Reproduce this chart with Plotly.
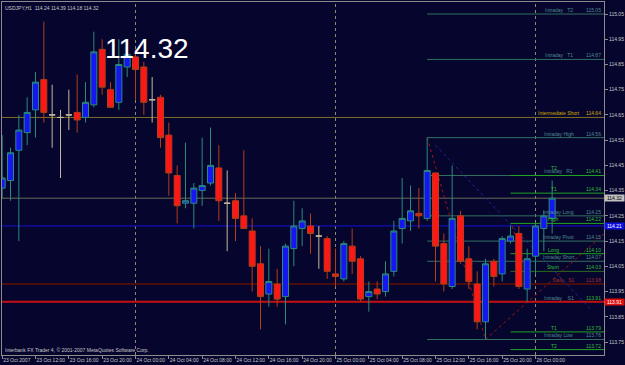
import plotly.graph_objects as go
import pandas as pd

# ---------------- data ----------------
times = pd.date_range("2007-10-23 08:00", periods=67, freq="h")
opens = [114.36, 114.39, 114.51, 114.58, 114.67, 114.79, 114.65, 114.64, 114.65, 114.66,
         114.64, 114.69, 114.91, 114.75, 114.70, 114.84, 114.88, 114.84, 114.71, 114.72,
         114.57, 114.41, 114.30, 114.30, 114.35, 114.38, 114.44, 114.30, 114.31, 114.25,
         114.19, 114.06, 113.94, 113.98, 113.93, 114.12, 114.20, 114.21, 114.17, 114.16,
         114.02, 114.00, 114.13, 114.08, 113.93, 113.96, 113.95, 114.03, 114.20, 114.23,
         114.26, 114.24, 114.42, 114.14, 113.97, 114.25, 114.08, 113.98, 113.83, 114.07,
         114.02, 114.15, 114.18, 113.96, 114.09, 114.20, 114.24]
highs = [114.57, 114.52, 114.65, 114.72, 114.82, 115.02, 114.77, 114.67, 114.75, 114.81,
         114.78, 114.98, 114.95, 114.78, 114.95, 114.92, 114.91, 114.86, 114.80, 114.73,
         114.62, 114.45, 114.54, 114.38, 114.56, 114.60, 114.53, 114.43, 114.34, 114.51,
         114.24, 114.13, 114.12, 114.04, 114.14, 114.31, 114.28, 114.26, 114.21, 114.17,
         114.12, 114.15, 114.20, 114.09, 113.99, 113.99, 114.07, 114.23, 114.40, 114.37,
         114.36, 114.56, 114.42, 114.18, 114.45, 114.27, 114.13, 114.03, 114.08, 114.08,
         114.17, 114.21, 114.21, 114.12, 114.22, 114.27, 114.39]
lows = [114.32, 114.31, 114.15, 114.53, 114.56, 114.62, 114.52, 114.40, 114.59, 114.58,
        114.62, 114.68, 114.73, 114.68, 114.67, 114.80, 114.71, 114.65, 114.62, 114.52,
        114.33, 114.22, 114.28, 114.20, 114.29, 114.37, 114.23, 114.11, 114.15, 114.20,
        113.95, 113.80, 113.89, 113.89, 113.82, 114.05, 114.13, 114.10, 114.04, 114.00,
        113.97, 113.99, 114.02, 113.91, 113.87, 113.92, 113.93, 114.01, 114.14, 114.19,
        114.20, 114.23, 113.99, 113.95, 113.96, 114.06, 113.96, 113.80, 113.76, 113.97,
        113.99, 114.14, 113.96, 113.91, 114.02, 114.11, 114.18]
closes = [114.40, 114.50, 114.59, 114.66, 114.78, 114.66, 114.65, 114.64, 114.65, 114.63,
          114.70, 114.90, 114.76, 114.68, 114.85, 114.89, 114.83, 114.70, 114.71, 114.56,
          114.42, 114.29, 114.31, 114.36, 114.37, 114.45, 114.31, 114.30, 114.24, 114.20,
          114.05, 113.93, 113.99, 113.92, 114.13, 114.21, 114.23, 114.18, 114.17, 114.03,
          114.01, 114.14, 114.07, 113.92, 113.95, 113.94, 114.02, 114.19, 114.24, 114.27,
          114.25, 114.43, 114.13, 113.98, 114.24, 114.07, 113.99, 113.83, 114.06, 114.01,
          114.16, 114.17, 113.97, 114.08, 114.21, 114.25, 114.32]

time_tick_bars = [0, 4, 8, 12, 16, 20, 24, 28, 32, 36, 40, 44, 48, 52, 56, 60, 64]
time_tick_labels = ["23 Oct 2007", "23 Oct 12:00", "23 Oct 16:00", "23 Oct 20:00",
                    "24 Oct 00:00", "24 Oct 04:00", "24 Oct 08:00", "24 Oct 12:00",
                    "24 Oct 16:00", "24 Oct 20:00", "25 Oct 00:00", "25 Oct 04:00",
                    "25 Oct 08:00", "25 Oct 12:00", "25 Oct 16:00", "25 Oct 20:00",
                    "26 Oct 00:00"]
day_separator_bars = [16, 40, 64]
price_ticks = [113.75, 113.85, 113.95, 114.05, 114.15, 114.25, 114.35, 114.45,
               114.55, 114.65, 114.75, 114.85, 114.95, 115.05]
price_tick_labels = ["113.75", "113.85", "113.95", "114.05", "114.15", "114.25", "114.35",
                     "114.45", "114.55", "114.65", "114.75", "114.85", "114.95", "115.05"]

intraday_names = ["Intraday   T2", "Intraday   T1", "Intraday High", "Intraday   R1",
                  "Intraday Long", "Intraday Pivot", "Intraday Short", "Intraday    S1",
                  "Intraday Low"]
intraday_values = [115.05, 114.87, 114.56, 114.41, 114.25, 114.15, 114.07, 113.91, 113.76]
target_names = ["T2", "T1", "High", "Long", "Short", "T1", "T2"]
target_values = [114.41, 114.34, 114.22, 114.10, 114.03, 113.79, 113.72]
major_names = ["Intermediate Short", "Daily   S1"]
major_values = [114.64, 113.98]
bid_price = 114.32
blue_level = 114.21
red_level = 113.91
zigzag_bars = [51, 58, 72.28]
zigzag_prices = [114.56, 113.76, 114.18]

symbol = "USDJPY,H1"
header_ohlc = "114.24 114.39 114.18 114.32"
copyright_text = "Interbank FX Trader 4, \u00a9 2001-2007 MetaQuotes Software Corp."

# ---------------- styles ----------------
BG = "#05052e"
FRAME = "#8c8c8c"
TXT = "#c8c8c8"
TEAL_LINE = "#33705f"
TEAL_TXT = "#4f8c8c"
GREEN_LINE = "#22a322"
GREEN_TXT = "#32bf32"
SMALL = 5
FONT = "Liberation Sans"

bars = list(range(len(times)))
norm = [i for i in bars if opens[i] != closes[i]]
doji = [i for i in bars if opens[i] == closes[i]]

fig = go.Figure()
fig.add_trace(go.Candlestick(
    x=[bars[i] for i in norm], open=[opens[i] for i in norm], high=[highs[i] for i in norm],
    low=[lows[i] for i in norm], close=[closes[i] for i in norm],
    increasing=dict(fillcolor="#1616f2", line=dict(color="#2a8a7c", width=1)),
    decreasing=dict(fillcolor="#ff1616", line=dict(color="#b43c16", width=1)),
    whiskerwidth=0, showlegend=False, hoverinfo="skip"))
fig.add_trace(go.Candlestick(
    x=[bars[i] for i in doji], open=[opens[i] for i in doji], high=[highs[i] for i in doji],
    low=[lows[i] for i in doji], close=[closes[i] for i in doji],
    increasing=dict(fillcolor="#c8c0a8", line=dict(color="#c2b99c", width=1)),
    decreasing=dict(fillcolor="#c8c0a8", line=dict(color="#c2b99c", width=1)),
    whiskerwidth=0, showlegend=False, hoverinfo="skip"))

XR = [-0.02, 72.22]
YR = [113.6985, 115.0976]
INTRA_START = 51
TARGET_START = 61
NAME_X = 66.8
VAL_X = 72.1

shapes = []
annotations = []

def hline(x0, y, color, width=1, dash="solid"):
    shapes.append(dict(type="line", xref="x", yref="y", x0=x0, x1=XR[1], y0=y, y1=y,
                       line=dict(color=color, width=width, dash=dash), layer="below"))

def label(x, y, text, color, anchor):
    annotations.append(dict(xref="x", yref="y", x=x, y=y, text=text, showarrow=False,
                            xanchor=anchor, yanchor="bottom", yshift=-1,
                            font=dict(size=SMALL, color=color, family=FONT)))

# day separators
for b in day_separator_bars:
    shapes.append(dict(type="line", xref="x", yref="paper", x0=b, x1=b, y0=0, y1=1,
                       line=dict(color="#8a8a70", width=1, dash="dot"), layer="below"))

# major full-width lines
hline(XR[0], major_values[0], "#7f6f22", 1)
hline(XR[0], bid_price, "#6a6a58", 1)
for v in intraday_values:
    hline(INTRA_START, v, TEAL_LINE, 1)
for n, v in zip(target_names, target_values):
    hline(TARGET_START, v, "#2a6e1e" if n == "Short" else GREEN_LINE, 1)
hline(XR[0], blue_level, "#1212d8", 1)
hline(XR[0], major_values[1], "#4a0c0c", 2)
hline(XR[0], red_level, "#c41010", 2)

# zigzag / trend lines
shapes.append(dict(type="line", xref="x", yref="y", x0=zigzag_bars[0], y0=zigzag_prices[0],
                   x1=zigzag_bars[1], y1=zigzag_prices[1],
                   line=dict(color="#a01414", width=1, dash="dot"), layer="below"))
shapes.append(dict(type="line", xref="x", yref="y", x0=zigzag_bars[1], y0=zigzag_prices[1],
                   x1=zigzag_bars[2], y1=zigzag_prices[2],
                   line=dict(color="#a01414", width=1, dash="dot"), layer="below"))
shapes.append(dict(type="line", xref="x", yref="y", x0=61.2, y0=114.21, x1=62.2, y1=114.10,
                   line=dict(color="#a01414", width=1, dash="dot"), layer="below"))
shapes.append(dict(type="line", xref="x", yref="y", x0=52.0, y0=114.53, x1=70.6, y1=113.88,
                   line=dict(color="#1c2a96", width=1, dash="dot"), layer="below"))

# level labels
for n, v in zip(intraday_names, intraday_values):
    label(NAME_X, v, n, TEAL_TXT, "center")
    label(VAL_X, v, f"{v:.2f}", GREEN_TXT if v in (114.41, 113.91) else TEAL_TXT, "right")
for n, v in zip(target_names, target_values):
    if v == 114.41:
        annotations.append(dict(xref="x", yref="y", x=NAME_X - 0.6, y=v, text=n, showarrow=False,
                                xanchor="center", yanchor="bottom", yshift=2,
                                font=dict(size=SMALL, color=GREEN_TXT, family=FONT)))
        continue
    label(NAME_X - 0.6, v, n, GREEN_TXT, "center")
    label(VAL_X, v, f"{v:.2f}", GREEN_TXT, "right")
label(NAME_X, major_values[0], major_names[0], "#d4aa00", "center")
label(VAL_X, major_values[0], f"{major_values[0]:.2f}", "#d4aa00", "right")
label(NAME_X + 0.6, major_values[1], major_names[1], "#a8302a", "center")
label(VAL_X, major_values[1], f"{major_values[1]:.2f}", "#a8302a", "right")

# price boxes on the axis
for v, bg, fg in [(bid_price, "#c0c0c0", "#000000"), (blue_level, "#1010e0", "#ffffff"),
                  (red_level, "#e01010", "#ffffff")]:
    annotations.append(dict(xref="paper", yref="y", x=1, y=v, text=f"{v:.2f}", showarrow=False,
                            xanchor="left", yanchor="middle", xshift=0, bgcolor=bg,
                            borderpad=0, width=19, height=6,
                            font=dict(size=SMALL, color=fg, family=FONT)))

# big price text
annotations.append(dict(xref="x", yref="y", x=17.4, y=114.912, text=f"{closes[-1]:.2f}",
                        showarrow=False, xanchor="center", yanchor="middle",
                        font=dict(size=28, color="#ffffff", family="Liberation Sans, Arial")))
# header and copyright
annotations.append(dict(xref="paper", yref="paper", x=0, y=1, xanchor="left", yanchor="top",
                        xshift=1, yshift=-1, showarrow=False,
                        text=f"{symbol}  {header_ohlc}",
                        font=dict(size=SMALL, color=TXT, family=FONT)))
annotations.append(dict(xref="paper", yref="paper", x=0, y=0, xanchor="left", yanchor="bottom",
                        xshift=1, yshift=0, showarrow=False, text=copyright_text,
                        font=dict(size=SMALL, color=TXT, family=FONT)))

fig.update_layout(
    width=625, height=365,
    margin=dict(l=2, r=21, t=2, b=10),
    paper_bgcolor=BG, plot_bgcolor=BG,
    boxgap=0.28, boxgroupgap=0,
    hovermode=False,
    shapes=shapes, annotations=annotations,
    xaxis=dict(range=XR, rangeslider=dict(visible=False), showgrid=False, zeroline=False,
               tickvals=time_tick_bars, ticktext=time_tick_labels, tickangle=0,
               ticks="outside", ticklen=3, tickcolor=FRAME,
               ticklabelposition="outside right",
               tickfont=dict(size=SMALL, color=TXT, family=FONT),
               showline=True, linecolor=FRAME, linewidth=1, mirror=True, automargin=False),
    yaxis=dict(range=YR, side="right", showgrid=False, zeroline=False,
               tickvals=price_ticks, ticktext=price_tick_labels,
               ticks="outside", ticklen=3, tickcolor=FRAME,
               tickfont=dict(size=SMALL, color=TXT, family=FONT),
               showline=True, linecolor=FRAME, linewidth=1, mirror=True, automargin=False),
)

fig.write_html("out.html")
